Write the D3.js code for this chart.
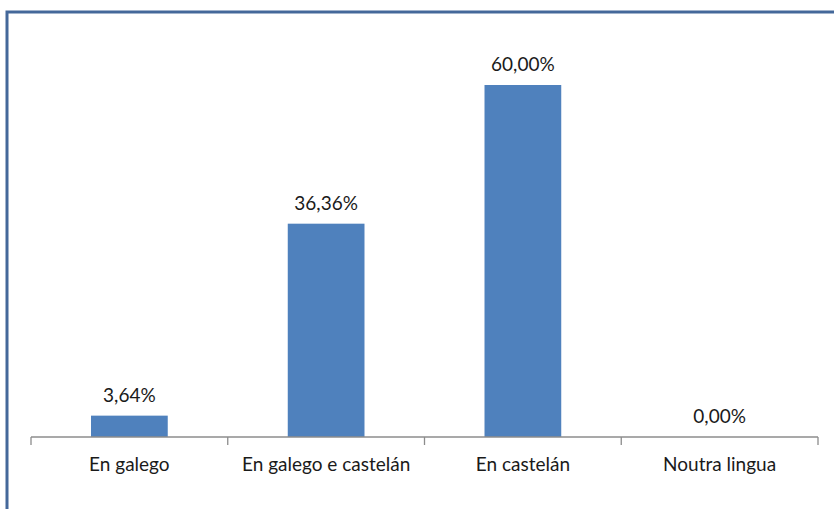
<!DOCTYPE html>
<html>
<head>
<meta charset="utf-8">
<script src="https://cdn.jsdelivr.net/npm/d3@7"></script>
<style>
  html, body { margin: 0; padding: 0; background: #fff; }
  svg { display: block; }
  text { font-family: Lato, "Open Sans", sans-serif; fill: #1a1a1a; }
</style>
</head>
<body>
<svg id="chart" width="834" height="509"></svg>
<script>
const categories = ["En galego", "En galego e castelán", "En castelán", "Noutra lingua"];
const values = [3.64, 36.36, 60.00, 0.00];
const valueLabels = ["3,64%", "36,36%", "60,00%", "0,00%"];

const W = 834, H = 509;
const svg = d3.select("#chart");

// frame (only left and top edges visible in the crop)
svg.append("path")
  .attr("d", `M7,${H} L7,12 L${W},12`)
  .attr("fill", "none")
  .attr("stroke", "#44689a")
  .attr("stroke-width", 3);

const x0 = 31, x1 = 818, yBase = 437;
const x = d3.scaleBand().domain(categories).range([x0, x1]).paddingInner(0.61).paddingOuter(0.305);
const y = d3.scaleLinear().domain([0, 60]).range([yBase, 85]);

// bars
svg.selectAll("rect.bar").data(values).enter().append("rect")
  .attr("class", "bar")
  .attr("x", (d, i) => x(categories[i]))
  .attr("width", x.bandwidth())
  .attr("y", d => y(d))
  .attr("height", d => yBase - y(d))
  .attr("fill", "#4f81bd");

// axis
const band = d3.scaleBand().domain(categories).range([x0, x1]);
const axis = d3.axisBottom(band).tickSize(0).tickFormat("");
const gAxis = svg.append("g").attr("transform", `translate(0,${yBase})`).call(axis);
gAxis.select(".domain").attr("stroke", "#8c8c8c").attr("stroke-width", 1.3).attr("d", `M${x0},0H${x1}`);
gAxis.selectAll(".tick").remove();
const bounds = categories.map(c => band(c)).concat([x1]);
gAxis.selectAll("line.sep").data(bounds).enter().append("line")
  .attr("class", "sep")
  .attr("x1", d => d).attr("x2", d => d)
  .attr("y1", 0).attr("y2", 8)
  .attr("stroke", "#8c8c8c").attr("stroke-width", 1.3);

// category labels
svg.selectAll("text.cat").data(categories).enter().append("text")
  .attr("class", "cat")
  .attr("x", d => band(d) + band.bandwidth() / 2)
  .attr("y", 471)
  .attr("text-anchor", "middle")
  .attr("font-size", 19)
  .text(d => d);

// value labels
svg.selectAll("text.val").data(values).enter().append("text")
  .attr("class", "val")
  .attr("x", (d, i) => band(categories[i]) + band.bandwidth() / 2)
  .attr("y", d => y(d) - 14)
  .attr("text-anchor", "middle")
  .attr("font-size", 19)
  .text((d, i) => valueLabels[i]);
</script>
</body>
</html>
